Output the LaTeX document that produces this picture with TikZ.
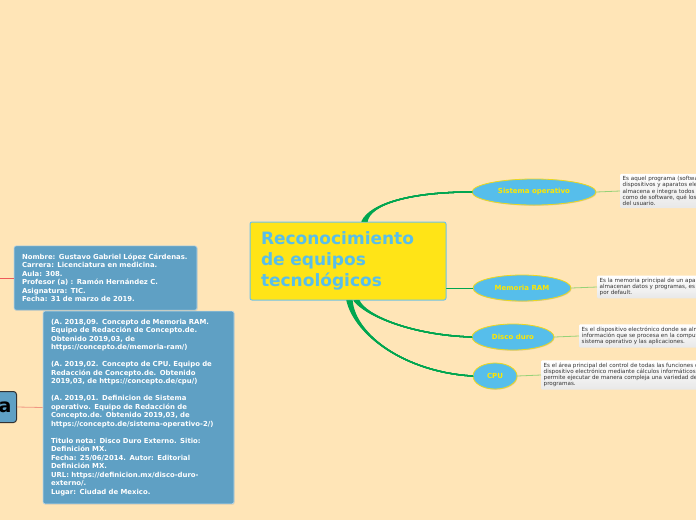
\documentclass[tikz,border=0pt]{standalone}
\usepackage{fontspec}
\setmainfont{DejaVu Sans}
\usetikzlibrary{shapes.geometric,shadows}

\definecolor{fondo}{RGB}{255,229,183}
\definecolor{amarillo}{RGB}{255,228,23}
\definecolor{azultexto}{RGB}{88,190,235}
\definecolor{raizborde}{RGB}{110,195,235}
\definecolor{celeste}{RGB}{86,190,235}
\definecolor{amarilloborde}{RGB}{235,215,30}
\definecolor{amarillotexto}{RGB}{255,230,0}
\definecolor{verde}{RGB}{0,166,80}
\definecolor{verdeclaro}{RGB}{150,210,120}
\definecolor{acero}{RGB}{95,160,196}
\definecolor{rojo}{RGB}{238,90,90}
\definecolor{salmon}{RGB}{240,150,130}

\tikzset{
raiz/.style={draw=raizborde,fill=amarillo,line width=1pt,
rounded corners=2pt,minimum width=196pt,minimum height=78pt,
text width=174pt,align=left,inner sep=0pt,text=azultexto,
font=\fontsize{17}{21}\selectfont\bfseries},
tema/.style={ellipse,draw=amarilloborde,line width=0.8pt,fill=celeste,
text=amarillotexto,inner sep=0pt,minimum height=26pt,
font=\fontsize{7}{8}\selectfont\bfseries,
drop shadow={opacity=0.25,shadow xshift=0.6pt,shadow yshift=-0.8pt}},
nota/.style={anchor=west,align=left,top color=white,bottom color=gray!18,
rounded corners=1pt,inner sep=2.5pt,text=black!80,
font=\fontsize{5.6}{6.2}\selectfont},
caja/.style={fill=acero,draw=white!60!acero,line width=0.6pt,
rounded corners=2pt,text=white,align=left,inner sep=8pt,
font=\fontsize{6.9}{8.5}\selectfont\bfseries,
drop shadow={opacity=0.25,shadow xshift=0.6pt,shadow yshift=-0.8pt}},
rama/.style={draw=verde,line width=1.3pt,line cap=round},
hoja/.style={draw=verdeclaro,line width=0.8pt}
}

\begin{document}
\begin{tikzpicture}[x=1pt,y=-1pt]

\useasboundingbox[fill=fondo] (0,0) rectangle (696,520);

% Idea central
\node[raiz] (root) at (348,261)
{Reconocimiento\\de equipos\\tecnológicos};

% Temas
\node[tema,minimum width=124pt] (so) at (534,192) {Sistema operativo};
\node[tema,minimum width=98pt] (ram) at (522,288) {Memoria RAM};
\node[tema,minimum width=82pt] (dd) at (513,337) {Disco duro};
\node[tema,minimum width=44pt] (cpu) at (495,376) {CPU};

% Notas
\node[nota] (soNota) at (620,191)
{Es aquel programa (software) que administra los\\
dispositivos y aparatos electrónicos, es decir,\\
almacena e integra todos los recursos, tanto de hardware\\
como de software, qué los hacen funcionar a disposición\\
del usuario.};

\node[nota] (ramNota) at (597,287)
{Es la memoria principal de un aparato, donde se\\
almacenan datos y programas, es decir, que vienen\\
por default.};

\node[nota] (ddNota) at (579,336)
{Es el dispositivo electrónico donde se almacena la\\
información que se procesa en la computadora, el\\
sistema operativo y las aplicaciones.};

\node[nota] (cpuNota) at (541,375)
{Es el área principal del control de todas las funciones de un\\
dispositivo electrónico mediante cálculos informáticos que\\
permite ejecutar de manera compleja una variedad de\\
programas.};

% Ramas (varias lineas que se juntan al final)
\foreach \d in {14,15,16,17,18,19}
{
\draw[rama] ([xshift=\d pt]root.north)
.. controls (370,204) and (410,192) .. (so.west);
}
\foreach \d in {6,7,8,9,10,11}
{
\draw[rama] ([xshift=\d pt]root.south)
.. controls (365,315) and (410,335) .. (dd.west);
}
\foreach \d in {-1,0,1,2,3,4}
{
\draw[rama] ([xshift=\d pt]root.south)
.. controls (355,335) and (405,372) .. (cpu.west);
}
\draw[rama,line width=1pt] (root.east |- ram.west) -- (ram.west);

\draw[hoja] (so.east) -- (soNota.west);
\draw[hoja] (ram.east) -- (ramNota.west);
\draw[hoja] (dd.east) -- (ddNota.west);
\draw[hoja] (cpu.east) -- (cpuNota.west);

% Datos del alumno
\node[caja,text width=167pt,minimum height=62pt] (info) at (105.5,278)
{Nombre: Gustavo Gabriel López Cárdenas.\\
Carrera: Licenciatura en medicina.\\
Aula: 308.\\
Profesor (a) : Ramón Hernández C.\\
Asignatura: TIC.\\
Fecha: 31 de marzo de 2019.};

\coordinate (izq) at (-20,278);
\draw[rojo,line width=1pt] (izq) -- (info.west);

% Bibliografia
\node[caja,text width=175pt,minimum height=189pt] (refs) at (138.5,407.5)
{(A. 2018,09. Concepto de Memoria RAM.\\
Equipo de Redacción de Concepto.de.\\
Obtenido 2019,03, de\\
https://concepto.de/memoria-ram/)\\[8.5pt]
(A. 2019,02. Concepto de CPU. Equipo de\\
Redacción de Concepto.de. Obtenido\\
2019,03, de https://concepto.de/cpu/)\\[8.5pt]
(A. 2019,01. Definicion de Sistema\\
operativo. Equipo de Redacción de\\
Concepto.de. Obtenido 2019,03, de\\
https://concepto.de/sistema-operativo-2/)\\[8.5pt]
Titulo nota: Disco Duro Externo. Sitio:\\
Definición MX.\\
Fecha: 25/06/2014. Autor: Editorial\\
Definición MX.\\
URL: https://definicion.mx/disco-duro-\\
externo/.\\
Lugar: Ciudad de Mexico.};

\node[fill=acero,draw=black!80,line width=1pt,rounded corners=3pt,
anchor=east,minimum height=31pt,inner xsep=5pt,
font=\fontsize{19}{22}\selectfont\bfseries]
(bib) at (17,407) {Bibliografía};

\draw[salmon,line width=0.8pt] (bib.east) -- (refs.west);

\end{tikzpicture}
\end{document}
